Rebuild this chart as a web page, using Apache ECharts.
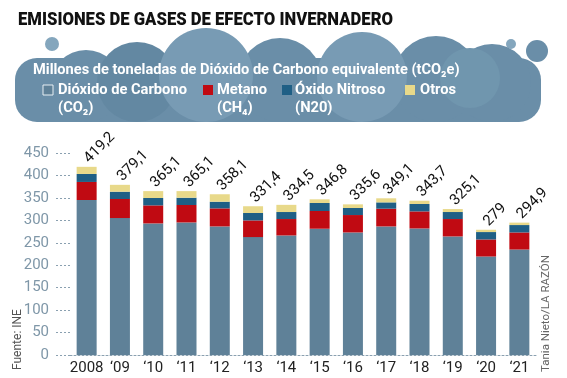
<!DOCTYPE html>
<html>
<head>
<meta charset="utf-8">
<script src="https://cdn.jsdelivr.net/npm/echarts@6/dist/echarts.min.js"></script>
<style>
html,body{margin:0;padding:0;background:#fff;}
#c{width:567px;height:378px;}
</style>
</head>
<body>
<div id="c"></div>
<script>
var years = ['2008', '‘09', '‘10', '‘11', '‘12', '‘13', '‘14', '‘15', '‘16', '‘17', '‘18', '‘19', '‘20', '‘21'];
var co2 =    [345.3, 305.1, 293.1, 295.3, 286.4, 262.7, 266.3, 281.3, 273.0, 286.4, 281.9, 264.1, 219.4, 235.0];
var metano = [40.2, 42.4, 40.2, 38.9, 40.2, 37.1, 36.6, 39.5, 38.8, 39.5, 38.0, 38.8, 38.0, 38.0];
var nitroso = [17.8, 16.3, 16.5, 16.2, 14.9, 16.5, 15.6, 17.8, 15.7, 14.1, 16.5, 15.6, 16.5, 16.5];
var otros =  [15.9, 15.3, 15.3, 14.7, 16.6, 15.1, 16.0, 8.2, 8.1, 9.1, 7.3, 6.6, 5.1, 5.4];
var totals = [419.2, 379.1, 365.1, 365.1, 358.1, 331.4, 334.5, 346.8, 335.6, 349.1, 343.7, 325.1, 279, 294.9];
var yTicks = [0, 450, 50];

var chart = echarts.init(document.getElementById('c'), null, {renderer: 'canvas'});
var F = 'Roboto, "Liberation Sans", sans-serif';
var cloudBase = '#6a8ea8', cloudLight = '#789bb4', cloudDark = '#6388a2';
function circ(cx, cy, r, fill) {
  return {type: 'circle', shape: {cx: cx, cy: cy, r: r}, style: {fill: fill}, z: 1, silent: true};
}
var cloud = [
  {type: 'rect', shape: {x: 15, y: 58, width: 526, height: 64, r: 22}, style: {fill: cloudBase}, z: 1, silent: true},
  circ(52, 44, 7, '#84a6bd'),
  circ(511, 44, 5, '#84a6bd'),
  circ(537, 51, 11, cloudBase),
  circ(86, 86, 36, cloudBase),
  circ(137, 82, 40, cloudDark),
  circ(280, 80, 42, cloudBase),
  circ(436, 79, 43, cloudBase),
  circ(492, 83, 39, cloudBase),
  circ(206, 75, 47, cloudLight),
  circ(362, 77, 45, cloudLight),
  circ(470, 78, 30, '#7096ae')
];
function sq(x, y, fill, stroke) {
  return {type: 'rect', shape: {x: x, y: y, width: 10, height: 10}, style: {fill: fill, stroke: stroke || null, lineWidth: 1}, z: 5};
}
function txt(x, y, s, size, extra) {
  var st = {text: s, fill: '#fff', font: 'bold ' + size + 'px ' + F, textVerticalAlign: 'middle', textAlign: 'left'};
  if (extra) for (var k in extra) st[k] = extra[k];
  return {type: 'text', x: x, y: y, style: st, z: 5};
}
var TITLE = 'EMISIONES DE GASES DE EFECTO INVERNADERO';
var titleFont = '900 18px Roboto, sans-serif';
var ctx = document.createElement('canvas').getContext('2d');
ctx.font = titleFont;
var tw = ctx.measureText(TITLE).width;
var legendG = [
  {type: 'text', x: 18, y: 20, scaleX: 375 / tw, style: {text: TITLE, fill: '#111', font: titleFont, textVerticalAlign: 'middle', textAlign: 'left'}, z: 6},
  txt(33, 70, 'Millones de toneladas de Dióxido de Carbono equivalente (tCO₂e)', 14.6),
  sq(43, 85, '#5f8198', '#e6eef3'), txt(58, 90, 'Dióxido de Carbono', 14.7), txt(58, 108, '(CO₂)', 14.7),
  sq(203, 85, '#c00a12'), txt(217, 90, 'Metano', 14.7), txt(217, 108, '(CH₄)', 14.7),
  sq(282, 85, '#1f5f85'), txt(295, 90, 'Óxido Nitroso', 14.7), txt(295, 108, '(N20)', 14.7),
  sq(405, 85, '#e8d98a'), txt(420, 90, 'Otros', 14.7),
  {type: 'text', x: 18, y: 370, rotation: Math.PI / 2, style: {text: 'Fuente: INE', fill: '#555', font: '12px ' + F, textVerticalAlign: 'middle', textAlign: 'left'}, z: 5},
  {type: 'text', x: 546, y: 372, rotation: Math.PI / 2, style: {text: 'Tania Nieto/LA RAZÓN', fill: '#666', font: '11.5px ' + F, textVerticalAlign: 'middle', textAlign: 'left'}, z: 5}
];

function fmt(v) { return String(v).replace('.', ','); }

var barW = 20;
chart.setOption({
  animation: false,
  graphic: cloud.concat(legendG),
  grid: {left: 70, right: 31, top: 153, bottom: 23, containLabel: false},
  xAxis: {
    type: 'category', data: years,
    axisLine: {show: true, lineStyle: {color: '#8aa0b0', type: [2, 2], width: 1}},
    axisTick: {show: false},
    axisLabel: {color: '#222', fontSize: 15, fontFamily: F, margin: 6, interval: 0}
  },
  yAxis: {
    type: 'value', min: yTicks[0], max: yTicks[1], interval: yTicks[2],
    axisLine: {show: false},
    axisTick: {show: true, length: 15, lineStyle: {color: '#8aa0b0', type: [2, 2], width: 1}},
    splitLine: {show: false},
    axisLabel: {color: '#7f97a8', fontSize: 15, fontFamily: F, margin: 21}
  },
  series: [
    {name: 'Dióxido de Carbono', type: 'bar', stack: 't', data: co2, barWidth: barW, itemStyle: {color: '#5f8198'}},
    {name: 'Metano', type: 'bar', stack: 't', data: metano, barWidth: barW, itemStyle: {color: '#c00a12'}},
    {name: 'Óxido Nitroso', type: 'bar', stack: 't', data: nitroso, barWidth: barW, itemStyle: {color: '#1f5f85'}},
    {name: 'Otros', type: 'bar', stack: 't', data: otros, barWidth: barW, itemStyle: {color: '#e8d98a'},
      label: {show: true, position: 'top', distance: 6, rotate: 45, align: 'left', verticalAlign: 'middle',
        color: '#111', fontSize: 15, fontFamily: F,
        formatter: function (p) { return fmt(totals[p.dataIndex]); }}}
  ]
});
</script>
</body>
</html>
